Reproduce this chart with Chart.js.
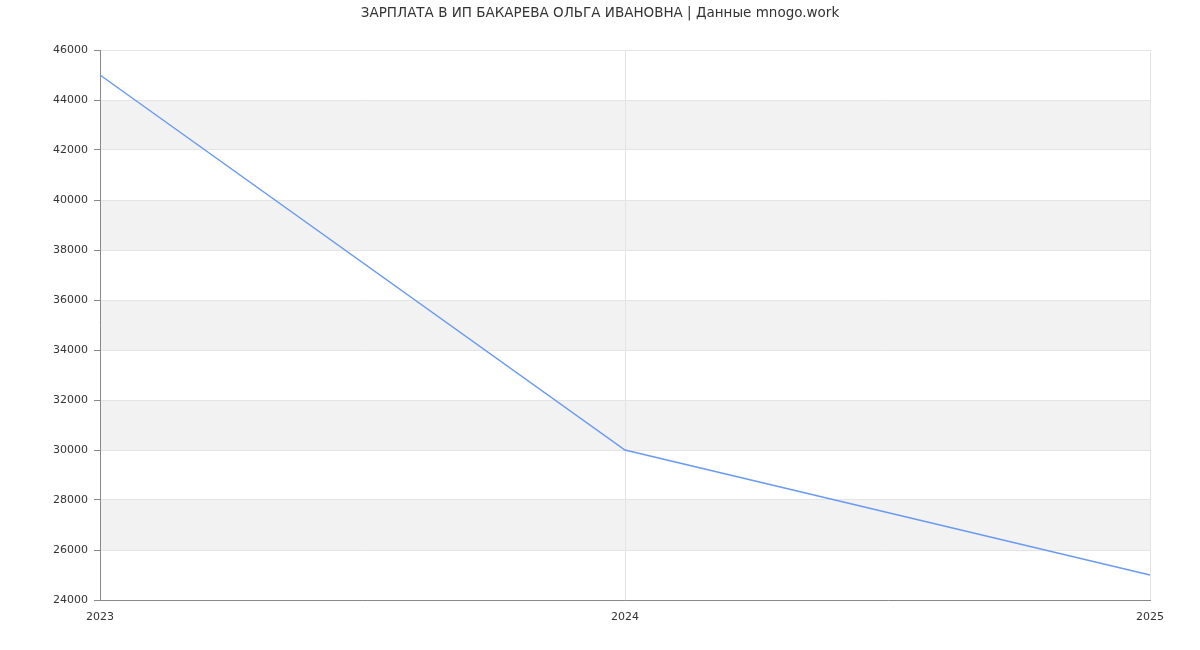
<!DOCTYPE html>
<html>
<head>
<meta charset="utf-8">
<script src="https://cdn.jsdelivr.net/npm/chart.js@4/dist/chart.umd.min.js"></script>
<style>
html,body{margin:0;padding:0;background:#fff;}
#wrap{width:1200px;height:650px;position:relative;}
</style>
</head>
<body>
<div id="wrap"><canvas id="c" width="1200" height="650"></canvas></div>
<script>
const titleText = 'ЗАРПЛАТА В ИП БАКАРЕВА ОЛЬГА ИВАНОВНА | Данные mnogo.work';
const years = ['2023', '2024', '2025'];
const salary = [45000, 30000, 25000];
const yMin = 24000, yMax = 46000, yStep = 2000;

const bandPlugin = {
  id: 'bands',
  beforeDraw(chart) {
    const {ctx, chartArea, scales} = chart;
    const y = scales.y;
    ctx.save();
    ctx.fillStyle = '#f2f2f2';
    let i = 0;
    for (let v = yMax; v > yMin; v -= yStep, i++) {
      if (i % 2 === 1) {
        const top = y.getPixelForValue(v);
        const bot = y.getPixelForValue(v - yStep);
        ctx.fillRect(chartArea.left, top, chartArea.right - chartArea.left, bot - top);
      }
    }
    ctx.restore();
  }
};

Chart.defaults.font.family = '"DejaVu Sans", Verdana, sans-serif';
Chart.defaults.color = '#333';

new Chart(document.getElementById('c'), {
  type: 'line',
  data: {
    labels: years,
    datasets: [{
      data: salary,
      borderColor: '#6b9bf0',
      borderWidth: 1.5,
      pointRadius: 0,
      fill: false,
      tension: 0
    }]
  },
  options: {
    responsive: false,
    animation: false,
    layout: {padding: {left: 0, right: 0, top: 0, bottom: 0}},
    plugins: {
      legend: {display: false},
      tooltip: {enabled: false},
      title: {
        display: true,
        text: titleText,
        color: '#333',
        font: {size: 13.5, weight: 'normal'},
        padding: {top: 5, bottom: 28.8}
      }
    },
    scales: {
      x: {
        type: 'category',
        offset: false,
        grid: {color: '#e4e4e4', drawTicks: false},
        border: {color: '#888'},
        ticks: {font: {size: 11}, color: '#333', padding: 11, maxRotation: 0},
        afterFit: s => { s.height = 50; }
      },
      y: {
        min: yMin,
        max: yMax,
        grid: {color: '#e4e4e4', tickLength: 6, tickColor: '#888'},
        border: {color: '#888'},
        ticks: {stepSize: yStep, font: {size: 11}, color: '#333', padding: 6, callback: v => String(v)},
        afterFit: s => { s.width = 100; }
      },
      yRight: {
        position: 'right',
        display: true,
        min: yMin,
        max: yMax,
        grid: {display: false, drawOnChartArea: false},
        border: {display: false},
        ticks: {display: false},
        afterFit: s => { s.width = 50; }
      }
    }
  },
  plugins: [bandPlugin]
});
</script>
</body>
</html>
